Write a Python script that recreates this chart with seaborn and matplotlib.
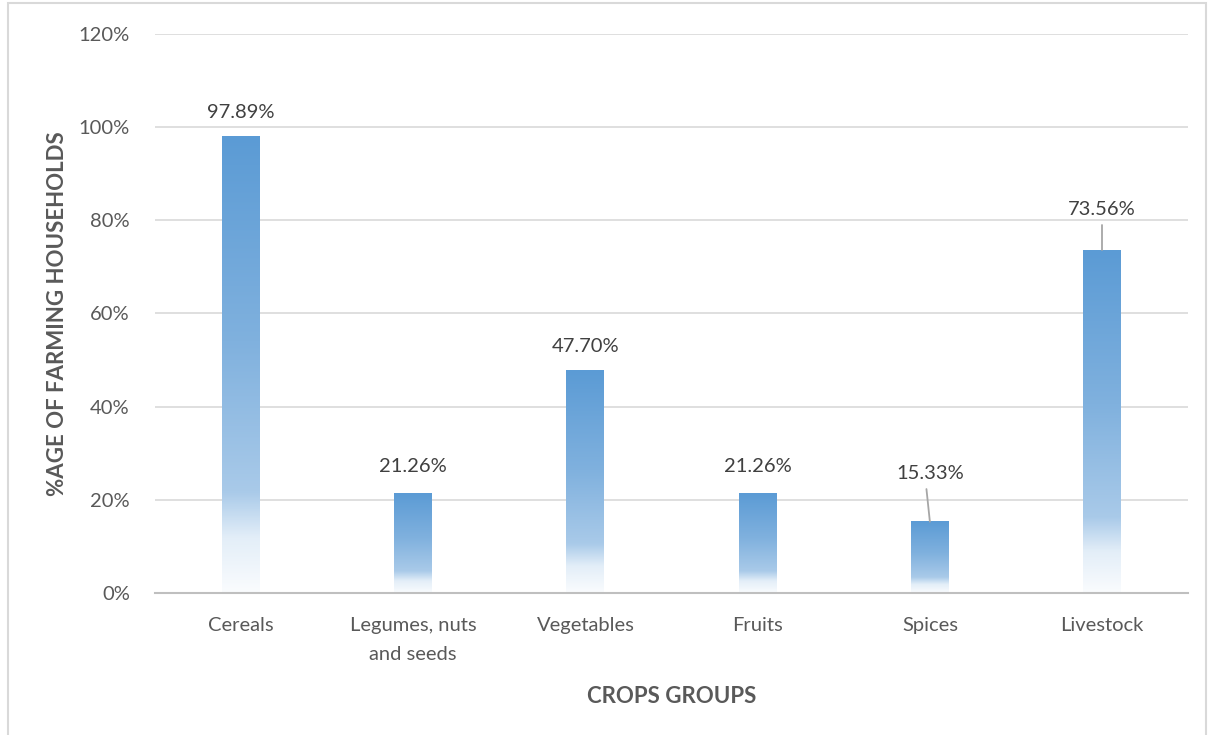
import numpy as np
import pandas as pd
import seaborn as sns
import matplotlib.pyplot as plt
from matplotlib.colors import LinearSegmentedColormap
from matplotlib.patches import Rectangle

# chart values
groups = ['Cereals', 'Legumes, nuts\nand seeds', 'Vegetables', 'Fruits', 'Spices', 'Livestock']
share = [97.89, 21.26, 47.70, 21.26, 15.33, 73.56]
# label offset above bar top (in % units); bigger ones get a leader line
label_gap = [3.4, 4.0, 3.4, 4.0, 8.5, 7.0]
leader_dx = [0, 0, 0, 0, -0.02, 0]

df = pd.DataFrame({'group': groups, 'share': share})

sns.set_theme(style="white")
plt.rcParams['font.family'] = ['Lato', 'DejaVu Sans']

fig = plt.figure(figsize=(12.1, 7.35), dpi=100)
ax = fig.add_axes([0.128, 0.193, 0.854, 0.761])

sns.barplot(data=df, x='group', y='share', color='#5B9BD5', width=0.22, ax=ax)

# Excel-like vertical gradient: blue at the top, fading to white at the base
grad = LinearSegmentedColormap.from_list('excel_blue', [
    (0.0, '#FAFCFE'), (0.12, '#E3EEF8'), (0.22, '#A9CAE9'),
    (0.55, '#80B1DE'), (1.0, '#5B9BD5')])
g = np.linspace(0, 1, 256).reshape(-1, 1)
for p in ax.patches:
    x0, y0 = p.get_x(), p.get_y()
    w, h = p.get_width(), p.get_height()
    ax.imshow(g, cmap=grad, origin='lower', aspect='auto',
              extent=[x0, x0 + w, y0, y0 + h], zorder=2)
    p.set_facecolor('none')
    p.set_edgecolor('none')

ax.set_xlim(-0.5, len(groups) - 0.5)
ax.set_ylim(0, 120)
ax.set_yticks(range(0, 121, 20))
ax.set_yticklabels([f'{v}%' for v in range(0, 121, 20)])

ax.grid(axis='y', color='#D9D9D9', linewidth=1.2, zorder=0)
ax.set_axisbelow(True)
for s in ['top', 'right', 'left']:
    ax.spines[s].set_visible(False)
ax.spines['bottom'].set_color('#BFBFBF')
ax.spines['bottom'].set_linewidth(1.5)
ax.tick_params(axis='both', length=0, labelsize=14.5, labelcolor='#595959')
ax.tick_params(axis='x', pad=17)
ax.tick_params(axis='y', pad=18)
for t in ax.get_xticklabels():
    t.set_linespacing(1.9)
    t.set_va('top')

# data labels
for i, (v, gap, dx) in enumerate(zip(share, label_gap, leader_dx)):
    ty = v + gap
    ax.text(i, ty, f'{v:.2f}%', ha='center', va='bottom', fontsize=14.5,
            color='#404040', zorder=4)
    if gap > 6:
        ax.plot([i + dx, i], [ty - 1.5, v], color='#A6A6A6', linewidth=1.3,
                zorder=3)

ax.set_xlabel('CROPS GROUPS', fontsize=16, fontweight='bold', color='#595959',
              labelpad=16)
ax.set_ylabel('%AGE OF FARMING HOUSEHOLDS', fontsize=16, fontweight='bold',
              color='#595959', labelpad=8)

# light chart border like the Excel chart area
fig.patches.append(Rectangle((0.007, -0.01), 0.99, 1.006, transform=fig.transFigure,
                             fill=False, edgecolor='#D9D9D9', linewidth=1.5))

plt.savefig('out.png', dpi=100)
